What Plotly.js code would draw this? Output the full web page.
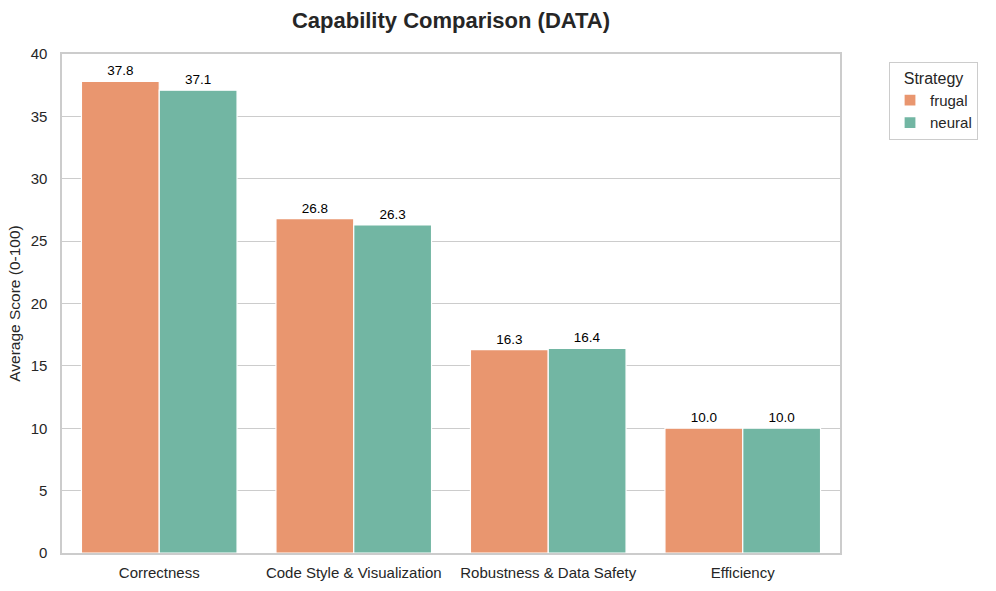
<!DOCTYPE html>
<html><head><meta charset="utf-8">
<script src="https://cdn.plot.ly/plotly-3.0.1.min.js"></script>
<style>body{margin:0;background:#fff}#c{width:996px;height:591px}</style>
</head><body><div id="c"></div>
<script>
const categories = ["Correctness", "Code Style & Visualization", "Robustness & Data Safety", "Efficiency"];
const frugal = [37.8, 26.8, 16.3, 10.0];
const neural = [37.1, 26.3, 16.4, 10.0];
const seriesNames = ["frugal", "neural"];
const colors = ["#E9966F", "#72B6A3"];

const font = "Liberation Sans, Arial, sans-serif";
function mk(name, vals, color) {
  return {
    type: "bar", name: name, x: categories, y: vals,
    marker: {color: color, line: {color: "#ffffff", width: 1.2}},
    text: vals.map(v => v.toFixed(1)), textposition: "outside",
    textfont: {family: font, size: 13.5, color: "#000"},
    cliponaxis: false, hoverinfo: "skip"
  };
}
const data = [mk(seriesNames[0], frugal, colors[0]), mk(seriesNames[1], neural, colors[1])];
const layout = {
  width: 996, height: 591,
  margin: {l: 62, r: 156, t: 54, b: 38},
  paper_bgcolor: "#fff", plot_bgcolor: "#fff",
  font: {family: font, color: "#262626"},
  title: {text: "<b>Capability Comparison (DATA)</b>", xref: "paper", x: 0.5, xanchor: "center", y: 0.965, yanchor: "middle",
          font: {size: 22, family: font, color: "#262626"}},
  barmode: "group", bargap: 0.2, bargroupgap: 0,
  xaxis: {showgrid: false, showline: true, mirror: true, linecolor: "#cccccc", linewidth: 1.6,
          ticks: "", ticklabelstandoff: 5, tickfont: {size: 15, color: "#262626"}, fixedrange: true},
  yaxis: {range: [0, 40], dtick: 5, showgrid: true, gridcolor: "#cccccc", gridwidth: 1.2,
          showline: true, mirror: true, linecolor: "#cccccc", linewidth: 1.6, zeroline: false,
          ticks: "", ticklabelstandoff: 10, tickfont: {size: 15, color: "#262626"},
          title: {text: "Average Score (0-100)", font: {size: 15.5, color: "#262626"}, standoff: 6}},
  legend: {x: 1.063, xanchor: "left", y: 0.984, yanchor: "top",
           bordercolor: "#cccccc", borderwidth: 1, bgcolor: "#fff",
           font: {size: 15, color: "#262626"},
           title: {text: "Strategy", side: "top center", font: {size: 16, color: "#262626"}},
           traceorder: "normal"},
  showlegend: true
};
Plotly.newPlot("c", data, layout, {displayModeBar: false, staticPlot: true});
</script></body></html>
